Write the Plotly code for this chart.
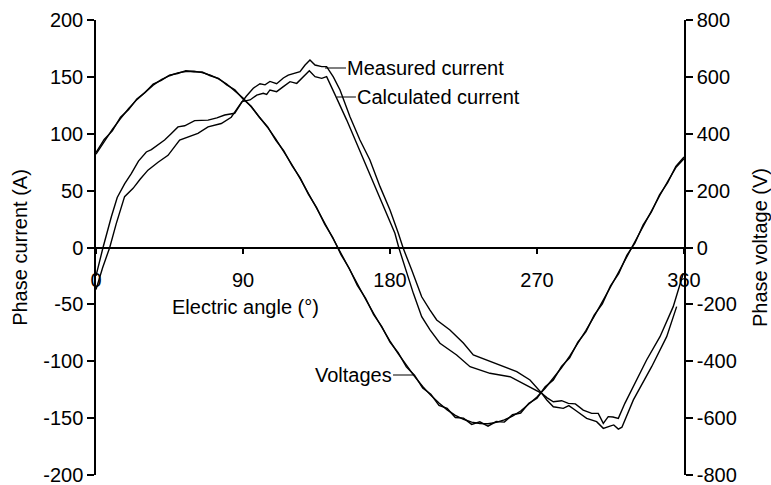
import plotly.graph_objects as go

# ---------------- data ----------------
x_ticks = [0, 90, 180, 270, 360]
x_tick_text = ["0", "90", "180", "270", "360"]
y_ticks = [-200, -150, -100, -50, 0, 50, 100, 150, 200]
y_tick_text = ["-200", "-150", "-100", "-50", "0", "50", "100", "150", "200"]
y2_ticks = [-800, -600, -400, -200, 0, 200, 400, 600, 800]
y2_tick_text = ["-800", "-600", "-400", "-200", "0", "200", "400", "600", "800"]

meas_i_angle = [0, 2, 4.3, 9.4, 13, 17.5, 21.6, 26, 30.8, 33.9, 38, 42, 46, 50.2, 54.3,
                60.4, 68.6, 74, 78.8, 84.9, 89.4, 92, 96.3, 100.4, 103.5, 106.5, 110.6,
                114.7, 117.7, 120.8, 124.9, 128, 131, 134.1, 138.2, 141.2, 145.3, 149.4,
                155.5, 161.6, 167.7, 173.9, 180, 185.1, 188.1, 193.3, 199.4, 204.5, 208.6,
                216.7, 224.9, 231, 241.2, 249.4, 257.6, 265.7, 271.8, 272.9, 276, 280,
                285.1, 289.2, 293.5, 298.3, 303.5, 307.5, 310.6, 313.6, 316.5, 319.8,
                323.8, 330, 337.1, 345.3, 353.4, 359.6]
meas_i = [-25, -12, 0, 27, 44, 56, 65, 76, 84, 86, 90, 94.5, 100, 106, 107,
          111.5, 112, 114, 116.5, 118, 128, 133, 140, 144, 143, 146, 144,
          149, 151.6, 153, 154.6, 160.4, 164.8, 160.4, 159, 159, 150, 138.5,
          115, 94.5, 77, 53.5, 33, 12.5, -0.7, -19.8, -43.3, -55, -63.7,
          -72.5, -84, -94.5, -100.4, -104.8, -109.2, -116.5, -126.8, -128.2, -132, -135.6,
          -134.7, -137, -137.5, -143, -145.8, -145.8, -154.6, -148.7, -149, -150.2,
          -137, -119.4, -98.9, -78.4, -52, -22.7]

calc_i_angle = [0, 4, 8.4, 12.4, 17.5, 22.7, 27, 31.8, 38, 44.1, 51.2, 56, 62.4, 68.6,
                76.7, 82.8, 89.4, 94.3, 98.4, 102.4, 104.5, 106.5, 108.5, 110.6, 114.7,
                118.8, 122.9, 126.9, 130.6, 134.1, 138.2, 141.2, 144.3, 146.9, 153.5,
                159.6, 165.7, 171.9, 178, 183, 185.5, 190.2, 194.3, 199.4, 204.5, 210.6,
                220.8, 229, 235.1, 241.2, 253.5, 265.7, 272.9, 276, 280, 286.1, 289.5,
                293.3, 296.5, 300.4, 306.5, 310.6, 314.7, 317, 319.8, 322, 329, 340.2,
                349.4, 355.5]
calc_i = [-37, -18, 0, 21, 44.7, 52, 60, 68, 75, 81, 94.5, 97, 100.4, 106,
          109, 114.5, 128.2, 129.7, 134, 135.6, 134.5, 138.5, 137.5, 137, 141.4,
          145.8, 144.3, 150.2, 155.4, 150.2, 148.7, 150.2, 141.4, 132.6, 112,
          91.6, 71, 50.5, 30, 12.5, -0.7, -22.7, -40.3, -60.8, -72.5, -84.2,
          -94.5, -104.8, -107.7, -110.6, -113.6, -122.4, -128.2, -134, -140, -141.4, -139,
          -142.9, -146, -150.2, -153.1, -159, -157, -156, -159.6, -158, -134, -104.8,
          -78.4, -52]

volt_angle = list(range(0, 361, 5))
meas_v = [328, 373, 415, 453, 489, 520, 547, 571, 590, 604, 614, 619, 620, 615, 606,
          593, 575, 552, 526, 495, 461, 423, 382, 338, 291, 242, 192, 139, 86, 32,
          -22, -76, -129, -181, -232, -281, -329, -373, -415, -453, -489, -520, -547,
          -571, -590, -604, -614, -619, -620, -615, -606, -593, -575, -552, -526, -495,
          -461, -423, -382, -338, -291, -242, -192, -139, -86, -32, 22, 76, 129, 181,
          232, 281, 312]
calc_v = [334, 380, 410, 458, 485, 522, 545, 575, 588, 606, 612, 622, 618, 617, 604,
          595, 572, 555, 522, 497, 458, 425, 378, 340, 288, 245, 188, 141, 82, 35,
          -25, -73, -133, -178, -236, -278, -333, -370, -420, -449, -494, -516, -555,
          -566, -598, -600, -622, -613, -628, -612, -614, -588, -582, -548, -530, -490,
          -466, -418, -388, -333, -296, -238, -198, -135, -92, -28, 16, 80, 124, 185,
          228, 285, 318]

FONT = "Liberation Sans, Arial, sans-serif"
FS = 20
LINE = dict(color="black", width=1.4)

fig = go.Figure()
fig.add_trace(go.Scatter(x=volt_angle, y=meas_v, mode="lines", line=LINE,
                         yaxis="y2", name="Measured voltage"))
fig.add_trace(go.Scatter(x=volt_angle, y=calc_v, mode="lines", line=LINE,
                         yaxis="y2", name="Calculated voltage"))
fig.add_trace(go.Scatter(x=meas_i_angle, y=meas_i, mode="lines", line=LINE,
                         name="Measured current"))
fig.add_trace(go.Scatter(x=calc_i_angle, y=calc_i, mode="lines", line=LINE,
                         name="Calculated current"))

axis_common = dict(showgrid=False, zeroline=False, showline=True, linecolor="black",
                   linewidth=1.5, ticks="outside", tickcolor="black", tickwidth=1.5,
                   ticklabeloverflow="allow", automargin=False,
                   tickfont=dict(family=FONT, size=FS, color="black"))

fig.update_layout(
    width=771, height=485,
    margin=dict(l=96, r=87, t=20, b=10),
    paper_bgcolor="white", plot_bgcolor="white",
    showlegend=False,
    font=dict(family=FONT, size=FS, color="black"),
    xaxis=dict(range=[0, 360], tickvals=x_ticks, ticktext=x_tick_text,
               anchor="free", position=0.5, ticklen=6, ticklabelstandoff=9,
               **axis_common),
    yaxis=dict(range=[-200, 200], tickvals=y_ticks, ticktext=y_tick_text, ticklen=7,
               title=dict(text="Phase current (A)", standoff=10,
                          font=dict(family=FONT, size=FS, color="black")),
               **axis_common),
    yaxis2=dict(range=[-800, 800], tickvals=y2_ticks, ticktext=y2_tick_text, ticklen=7,
                overlaying="y", side="right", anchor="x",
                title=dict(text="Phase voltage (V)", standoff=18,
                           font=dict(family=FONT, size=FS, color="black")),
                **axis_common),
)

ann_font = dict(family=FONT, size=FS, color="black")
fig.add_annotation(x=91.8, y=-52.3, xref="x", yref="y", text="Electric angle (°)",
                   showarrow=False, font=ann_font, xanchor="center", yanchor="middle")
fig.add_annotation(x=140.2, y=157.8, xref="x", yref="y", text="Measured current",
                   showarrow=True, arrowhead=0, arrowwidth=1.2, arrowcolor="black",
                   ax=21, ay=0, xanchor="left", yanchor="middle", font=ann_font,
                   borderpad=0)
fig.add_annotation(x=147.5, y=132.3, xref="x", yref="y", text="Calculated current",
                   showarrow=True, arrowhead=0, arrowwidth=1.2, arrowcolor="black",
                   ax=19, ay=0, xanchor="left", yanchor="middle", font=ann_font,
                   borderpad=0)
fig.add_annotation(x=194.1, y=-112.1, xref="x", yref="y", text="Voltages",
                   showarrow=True, arrowhead=0, arrowwidth=1.2, arrowcolor="black",
                   ax=-20, ay=0, xanchor="right", yanchor="middle", font=ann_font,
                   borderpad=0)

fig.write_html("out.html")
